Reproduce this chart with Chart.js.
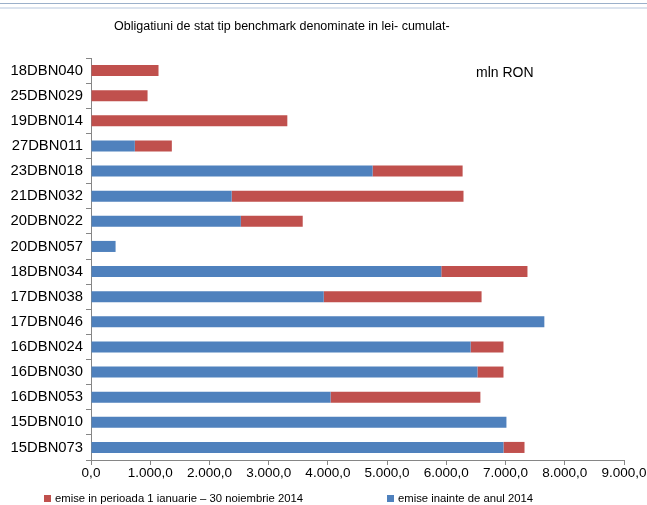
<!DOCTYPE html>
<html lang="ro">
<head>
  <meta charset="UTF-8">
  <title>Obligatiuni de stat tip benchmark</title>
  <style>
    body { margin: 0; background: #fff; }
    .box { position: relative; width: 647px; height: 505px; font-family: 'Liberation Sans', Arial, sans-serif; }
    .line1 { position: absolute; left: 0; top: 3px; width: 647px; height: 1px; background: #9bb0ca; }
    .line2 { position: absolute; left: 0; top: 7px; width: 647px; height: 2px; background: #dbe3ee; }
    .legend { position: absolute; top: 491px; left: 0; width: 647px; height: 14px; font-size: 11.3px; color: #000; }
    .legend span.item { position: absolute; top: 0; white-space: nowrap; line-height: 14px; }
    .legend i { display: inline-block; width: 7px; height: 7px; margin-right: 4px; vertical-align: 0px; }
  </style>
  <script src="https://cdn.jsdelivr.net/npm/chart.js@4.4.6/dist/chart.umd.min.js"></script>
</head>
<body>
<div class="box">
  <div class="line1"></div>
  <div class="line2"></div>
  <canvas id="myChart" width="647" height="505"></canvas>
  <div class="legend" id="legend"></div>
</div>
<script>
// categories, top to bottom
var categories = ['18DBN040', '25DBN029', '19DBN014', '27DBN011', '23DBN018', '21DBN032', '20DBN022', '20DBN057',
                  '18DBN034', '17DBN038', '17DBN046', '16DBN024', '16DBN030', '16DBN053', '15DBN010', '15DBN073'];
// emise inainte de anul 2014 (mln RON)
var before2014 = [0, 0, 0, 740, 4755, 2375, 2530, 415, 5915, 3930, 7655, 6410, 6525, 4045, 7015, 6965];
// emise in perioada 1 ianuarie - 30 noiembrie 2014 (mln RON)
var in2014 = [1140, 955, 3315, 625, 1520, 3915, 1045, 0, 1455, 2665, 0, 555, 440, 2530, 0, 355];
var xTicks = [0, 1000, 2000, 3000, 4000, 5000, 6000, 7000, 8000, 9000];

var titleText = 'Obligatiuni de stat tip benchmark denominate in lei- cumulat-';
var unitText = 'mln RON';
var fontFam = "'Liberation Sans', Arial, sans-serif";

function fmt(v) {
  // 1000 -> "1.000,0"
  var s = Math.round(v).toString().replace(/\B(?=(\d{3})+(?!\d))/g, '.');
  return s + ',0';
}

// title and unit text
var textPlugin = {
  id: 'extraText',
  afterDraw: function(chart) {
    var c = chart.ctx;
    c.save();
    c.fillStyle = '#000';
    c.textBaseline = 'middle';
    c.textAlign = 'left';
    c.font = '12.5px ' + fontFam;
    c.fillText(titleText, 114, 27);
    c.font = '14px ' + fontFam;
    c.fillText(unitText, 476, 73);
    c.restore();
  }
};

var ctx = document.getElementById('myChart');
var myChart = new Chart(ctx, {
  type: 'bar',
  data: {
    labels: categories,
    datasets: [
      {
        label: 'emise inainte de anul 2014',
        data: before2014,
        backgroundColor: '#4f81bd',
        barPercentage: 0.88,
        categoryPercentage: 0.5
      },
      {
        label: 'emise in perioada 1 ianuarie \u2013 30 noiembrie 2014',
        data: in2014,
        backgroundColor: '#c0504d',
        barPercentage: 0.88,
        categoryPercentage: 0.5
      }
    ]
  },
  options: {
    indexAxis: 'y',
    responsive: false,
    animation: false,
    layout: { padding: { top: 58, right: 23, left: 0, bottom: 0 } },
    plugins: {
      legend: { display: false },
      title: { display: false },
      tooltip: { enabled: false }
    },
    scales: {
      x: {
        stacked: true,
        min: 0,
        max: 9000,
        afterBuildTicks: function(scale) {
          scale.ticks = xTicks.map(function(v) { return { value: v }; });
        },
        afterFit: function(scale) { scale.height = 45; },
        grid: { drawOnChartArea: false, drawTicks: true, tickLength: 5, color: '#868686' },
        border: { display: true, color: '#868686' },
        ticks: {
          padding: 0,
          color: '#000',
          maxRotation: 0,
          font: { family: fontFam, size: 13.5 },
          callback: function(value) { return fmt(value); }
        }
      },
      y: {
        stacked: true,
        afterFit: function(scale) { scale.width = 91; },
        grid: { drawOnChartArea: false, drawTicks: true, tickLength: 5, color: '#868686', offset: true },
        border: { display: true, color: '#868686' },
        ticks: {
          padding: 3,
          color: '#000',
          font: { family: fontFam, size: 14.8 }
        }
      }
    }
  },
  plugins: [textPlugin]
});

// legend: red first, then blue
var legendPos = [{ ds: 1, left: 44 }, { ds: 0, left: 387 }];
var lg = document.getElementById('legend');
legendPos.forEach(function(p) {
  var d = myChart.data.datasets[p.ds];
  var el = document.createElement('span');
  el.className = 'item';
  el.style.left = p.left + 'px';
  el.innerHTML = '<i style="background:' + d.backgroundColor + '"></i>' + d.label;
  lg.appendChild(el);
});
</script>
</body>
</html>
